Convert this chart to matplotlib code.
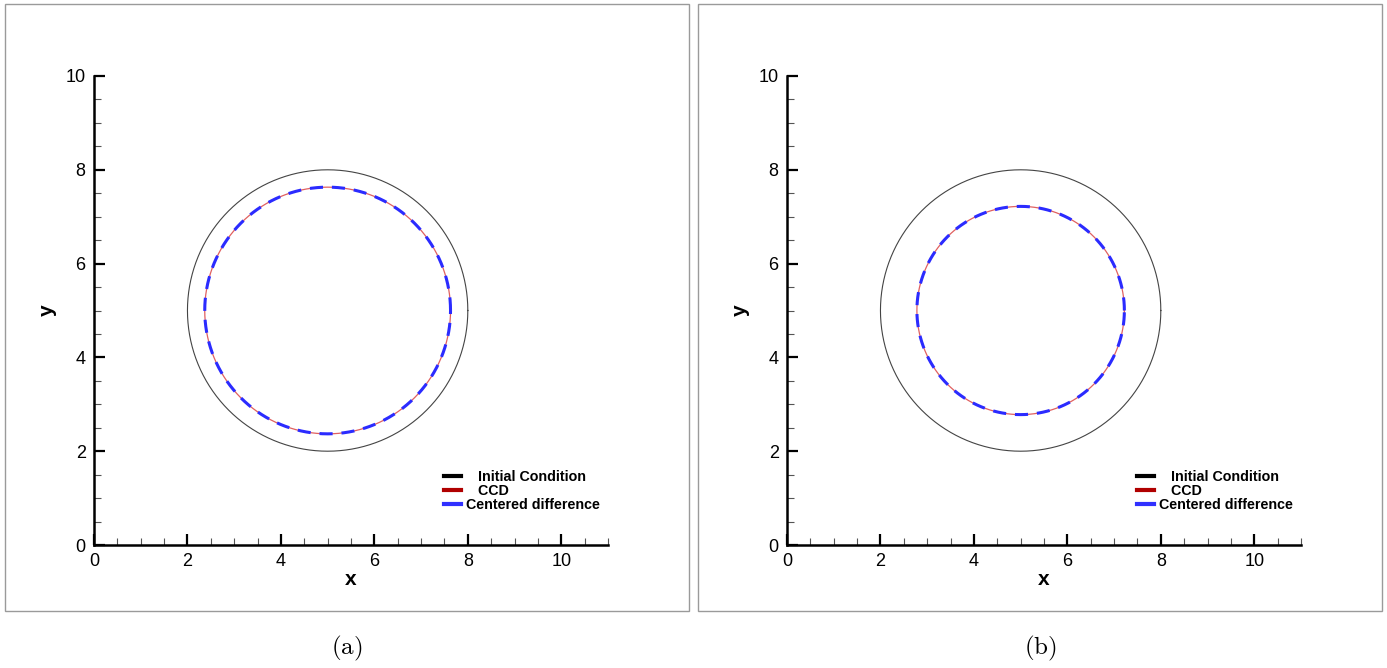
import matplotlib.pyplot as plt
import numpy as np
from matplotlib.lines import Line2D
from matplotlib.patches import Rectangle
from matplotlib.ticker import MultipleLocator

plt.rcParams['font.family'] = ['Liberation Sans', 'DejaVu Sans']
plt.rcParams['mathtext.fontset'] = 'cm'

# circle data
center = (5.0, 5.0)
r_initial = 3.0
r_numeric = [2.63, 2.22]   # (a), (b)
captions = ["(a)", "(b)"]
legend_labels = ["   Initial Condition", "   CCD", "Centered difference"]

theta = np.linspace(0, 2 * np.pi, 721)

fig = plt.figure(figsize=(13.87, 6.68), dpi=100)
W, H = 1387, 668

for i, r in enumerate(r_numeric):
    off = 693 * i
    # panel frame
    fig.patches.append(Rectangle(((5 + off) / W, 1 - 611 / H), 684 / W, 607 / H,
                                 transform=fig.transFigure, fill=False,
                                 edgecolor='#9a9a9a', lw=1.0))
    ax = fig.add_axes([(94 + off) / W, 123 / H, 514 / W, 469 / H])
    ax.set_xlim(0, 11)
    ax.set_ylim(0, 10)
    for s in ['top', 'right']:
        ax.spines[s].set_visible(False)
    for s in ['left', 'bottom']:
        ax.spines[s].set_linewidth(1.8)
    ax.patch.set_alpha(0)

    ax.plot(center[0] + r_initial * np.cos(theta), center[1] + r_initial * np.sin(theta),
            color='#444444', lw=0.8)
    ax.plot(center[0] + r * np.cos(theta), center[1] + r * np.sin(theta),
            color='#e06060', lw=0.9)
    ax.plot(center[0] + r * np.cos(theta), center[1] + r * np.sin(theta),
            color='#2b2bff', lw=2.2, linestyle=(0, (4.3, 2.9)))

    ax.xaxis.set_major_locator(MultipleLocator(2))
    ax.yaxis.set_major_locator(MultipleLocator(2))
    ax.xaxis.set_minor_locator(MultipleLocator(0.5))
    ax.yaxis.set_minor_locator(MultipleLocator(0.5))
    ax.tick_params(which='major', direction='in', length=8, width=1.6,
                   labelsize=13, pad=6)
    ax.tick_params(which='minor', direction='in', length=5, width=0.8, color='#555555')
    ax.set_xlabel("x", fontsize=15, fontweight='bold', labelpad=0)
    ax.set_ylabel("y", fontsize=15, fontweight='bold', labelpad=6)

    handles = [Line2D([], [], color='black', lw=3),
               Line2D([], [], color='#b00000', lw=3),
               Line2D([], [], color='#3030ff', lw=3)]
    ax.legend(handles, legend_labels, loc='upper left', bbox_to_anchor=(7.22 / 11, 1.88 / 10),
              frameon=False, handlelength=1.2, handletextpad=0.3, labelspacing=0.02,
              prop={'weight': 'bold', 'size': 10.3})

    fig.text((347 + off) / W, 1 - 648 / H, r"$\mathrm{" + captions[i] + "}$",
             ha='center', va='center', fontsize=18)

fig.savefig("out.png", dpi=100)
